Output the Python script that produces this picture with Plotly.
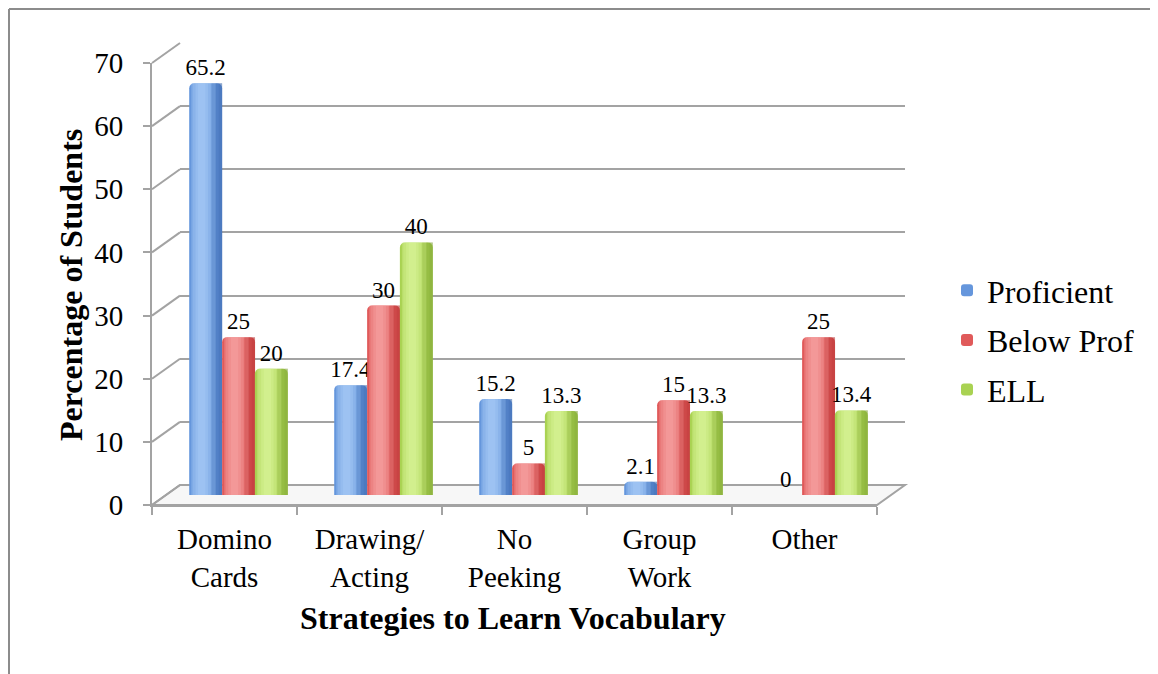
import plotly.graph_objects as go

# ---------------- data ----------------
categories = ["Domino<br>Cards", "Drawing/<br>Acting", "No<br>Peeking", "Group<br>Work", "Other"]
proficient = [65.2, 17.4, 15.2, 2.1, 0]
below_prof = [25, 30, 5, 15, 25]
ell = [20, 40, 13.3, 13.3, 13.4]
y_ticks = [0, 10, 20, 30, 40, 50, 60, 70]

series_names = ["Proficient", "Below Prof", "ELL"]
series_values = [proficient, below_prof, ell]

# ---------------- styling / geometry ----------------
PAGE_OFF = 8                 # default body margin of the html page
W, H = 1158 - PAGE_OFF, 674 - PAGE_OFF
FONT = "Liberation Serif"
GRID = "#a3a3a3"
base_colors = ["#6596dc", "#e05a5a", "#a9d252"]
hi_colors = ["#b4d3fc", "#fab0b0", "#e2fba6"]
dark_colors = ["#3a66ad", "#b83232", "#7ea232"]

def px(x):
    return (x - PAGE_OFF) / W

def py(y):
    return 1 - (y - PAGE_OFF) / H

# front plane (axes with ticks), in window pixels
FX0, FX1, FY0, FY1 = 152, 877, 505, 63
# depth offset of the back wall
DX, DY = 28, -20
# bars sit midway
BX, BY = DX / 2, DY / 2

ymax = y_ticks[-1]
xidx = list(range(len(categories)))
bw = 0.227
offsets = [-0.34, -0.113, 0.113]

fig = go.Figure()

# invisible anchors so the front axes and back wall get drawn
fig.add_trace(go.Scatter(x=[None], y=[None], xaxis="x", yaxis="y", showlegend=False, hoverinfo="skip"))
fig.add_trace(go.Scatter(x=[None], y=[None], xaxis="x2", yaxis="y2", showlegend=False, hoverinfo="skip"))

# shading strips: (start fraction, width fraction, colour set, opacity)
strips = []
for w in [0.75, 0.55, 0.38, 0.22]:
    strips.append((max(0.38 - w / 2, 0.06), min(w, 0.88), "hi", 0.28))
for w in [0.32, 0.2, 0.1]:
    strips.append((1 - w, w, "dark", 0.25))

for i, (name, vals) in enumerate(zip(series_names, series_values)):
    fig.add_trace(go.Bar(
        x=xidx, y=vals, name=name, xaxis="x3", yaxis="y3",
        offset=offsets[i], width=bw,
        marker=dict(color=base_colors[i], cornerradius=5, line=dict(width=0)),
        texttemplate="%{y}", textposition="outside", constraintext="none",
        cliponaxis=False, textfont=dict(family=FONT, size=23, color="black"),
        legendgroup=name, hoverinfo="skip",
    ))
    for (s, w, kind, op) in strips:
        col = hi_colors[i] if kind == "hi" else dark_colors[i]
        fig.add_trace(go.Bar(
            x=xidx, y=vals, xaxis="x3", yaxis="y3",
            offset=offsets[i] + bw * s, width=bw * w,
            marker=dict(color=col, opacity=op, line=dict(width=0)),
            showlegend=False, hoverinfo="skip", legendgroup=name,
        ))

shapes = []
# outer frame (top and left)
shapes.append(dict(type="line", xref="paper", yref="paper", x0=px(9), x1=1.0, y0=py(9), y1=py(9),
                   line=dict(color="#8c8c8c", width=2)))
shapes.append(dict(type="line", xref="paper", yref="paper", x0=px(9), x1=px(9), y0=py(9), y1=0,
                   line=dict(color="#8c8c8c", width=2)))
# floor
shapes.append(dict(type="path", xref="paper", yref="paper", layer="below",
                   path=f"M {px(FX0)} {py(FY0)} L {px(FX1)} {py(FY0)} L {px(FX1+DX)} {py(FY0+DY)} L {px(FX0+DX)} {py(FY0+DY)} Z",
                   fillcolor="#f7f7f7", line=dict(color=GRID, width=2)))
# side-wall connectors for each tick
for v in y_ticks:
    yf = FY0 + (FY1 - FY0) * v / ymax
    shapes.append(dict(type="line", xref="paper", yref="paper",
                       x0=px(FX0), y0=py(yf), x1=px(FX0 + DX), y1=py(yf + DY),
                       line=dict(color=GRID, width=2)))

axis_font = dict(family=FONT, size=29, color="black")

fig.update_layout(
    width=W, height=H,
    margin=dict(l=0, r=0, t=0, b=0, autoexpand=False),
    paper_bgcolor="white", plot_bgcolor="rgba(0,0,0,0)",
    barmode="overlay",
    showlegend=True,
    legend=dict(x=px(947), y=py(263), xanchor="left", yanchor="top",
                font=dict(family=FONT, size=32, color="black"),
                tracegroupgap=5, bgcolor="rgba(0,0,0,0)"),
    # front axes
    xaxis=dict(domain=[px(FX0), px(FX1)], anchor="y", range=[-0.5, len(categories) - 0.5],
               tickvals=xidx, ticktext=categories, ticks="", showgrid=False, zeroline=False,
               showline=True, linecolor=GRID, linewidth=2, tickfont=axis_font,
               ticklabelstandoff=7, automargin=False,
               minor=dict(tick0=-0.5, dtick=1, ticks="outside", ticklen=8, tickcolor=GRID,
                          tickwidth=2, showgrid=False)),
    yaxis=dict(domain=[py(FY0), py(FY1)], anchor="x", range=[0, ymax], tickvals=y_ticks,
               ticks="outside", ticklen=7, tickcolor=GRID, tickwidth=2, showgrid=False,
               zeroline=False, showline=True, linecolor=GRID, linewidth=2, tickfont=axis_font,
               ticklabelstandoff=14, automargin=False),
    # back wall (gridlines)
    xaxis2=dict(domain=[px(FX0 + DX), px(FX1 + DX)], anchor="y2", range=[-0.5, len(categories) - 0.5],
                showgrid=False, showticklabels=False, showline=False, zeroline=False, ticks="",
                automargin=False),
    yaxis2=dict(domain=[py(FY0 + DY), py(FY1 + DY)], anchor="x2", range=[0, ymax], tickvals=y_ticks,
                showgrid=True, gridcolor=GRID, gridwidth=2, zeroline=False, showline=False,
                showticklabels=False, ticks="", automargin=False),
    # bars (midway depth)
    xaxis3=dict(domain=[px(FX0 + BX), px(FX1 + BX)], anchor="y3", range=[-0.5, len(categories) - 0.5],
                visible=False, automargin=False),
    yaxis3=dict(domain=[py(FY0 + BY), py(FY1 + BY)], anchor="x3", range=[0, ymax], visible=False,
                automargin=False),
    shapes=shapes,
    annotations=[
        dict(text="<b>Percentage of Students</b>", xref="paper", yref="paper", x=px(71), y=py(285),
             xanchor="center", yanchor="middle",
             textangle=-90, showarrow=False, font=dict(family=FONT, size=32, color="black")),
        dict(text="<b>Strategies to Learn Vocabulary</b>", xref="paper", yref="paper", x=px(513), y=py(618),
             xanchor="center", yanchor="middle",
             showarrow=False, font=dict(family=FONT, size=32, color="black")),
    ],
)

fig.write_html("out.html")
